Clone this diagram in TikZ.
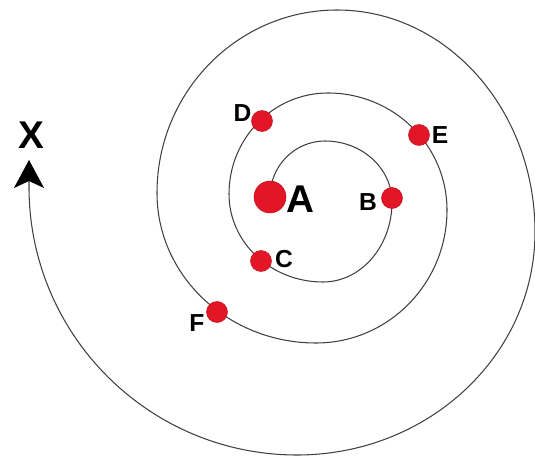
\documentclass[tikz,border=0pt]{standalone}
\usepackage{fontspec}
\setmainfont{Liberation Sans}
\usetikzlibrary{arrows.meta,positioning}
\definecolor{dotred}{RGB}{226,22,38}

\begin{document}
\begin{tikzpicture}[
  x=0.02cm, y=0.02cm,
  spiral/.style={line width=0.6pt, draw=black!75},
  arrow/.style={-{Stealth[length=0.56cm,width=0.6cm,inset=0.14cm,black]}},
  dot/.style={circle, fill=dotred, draw=dotred!85!black, line width=0.3pt, inner sep=0pt, minimum size=0.42cm},
  bigdot/.style={dot, minimum size=0.64cm},
  letter/.style={inner sep=0pt, font=\fontsize{14}{14}\selectfont\bfseries},
  bigletter/.style={inner sep=0pt, font=\fontsize{22}{22}\selectfont\bfseries}
]
\useasboundingbox (0,0) rectangle (535,457);

\coordinate (start) at (270,260);
\coordinate (tip) at (29,297);

\draw[spiral, arrow] (start)
  arc[start angle=180, end angle=90, x radius=55, y radius=56]
  arc[start angle=90, end angle=0, x radius=67, y radius=61]
  arc[start angle=0, end angle=-90, x radius=69, y radius=80]
  arc[start angle=-90, end angle=-180, x radius=94, y radius=88]
  arc[start angle=180, end angle=90, x radius=99, y radius=101]
  arc[start angle=90, end angle=0, x radius=119, y radius=117]
  arc[start angle=0, end angle=-90, x radius=131, y radius=133]
  arc[start angle=-90, end angle=-180, x radius=159, y radius=150]
  arc[start angle=180, end angle=90, x radius=180, y radius=183]
  arc[start angle=90, end angle=0, x radius=198, y radius=222]
  arc[start angle=0, end angle=-90, x radius=238, y radius=223]
  arc[start angle=-90, end angle=-180, x radius=268, y radius=268]
  -- (tip);

\node[bigdot] (a) at (start) {};
\node[dot] (b) at (392,259) {};
\node[dot] (c) at (261,196) {};
\node[dot] (d) at (262,336) {};
\node[dot] (e) at (419,322) {};
\node[dot] (f) at (217,145) {};

\node[bigletter] (labelA) at (300,258) {A};
\node[letter] (labelB) at (368,254.5) {B};
\node[letter] (labelC) at (284,197.5) {C};
\node[letter] (labelD) at (242.5,343.5) {D};
\node[letter] (labelE) at (440,322) {E};
\node[letter] (labelF) at (197,134) {F};
\node[bigletter] (labelX) at (31,322) {X};
\end{tikzpicture}
\end{document}
